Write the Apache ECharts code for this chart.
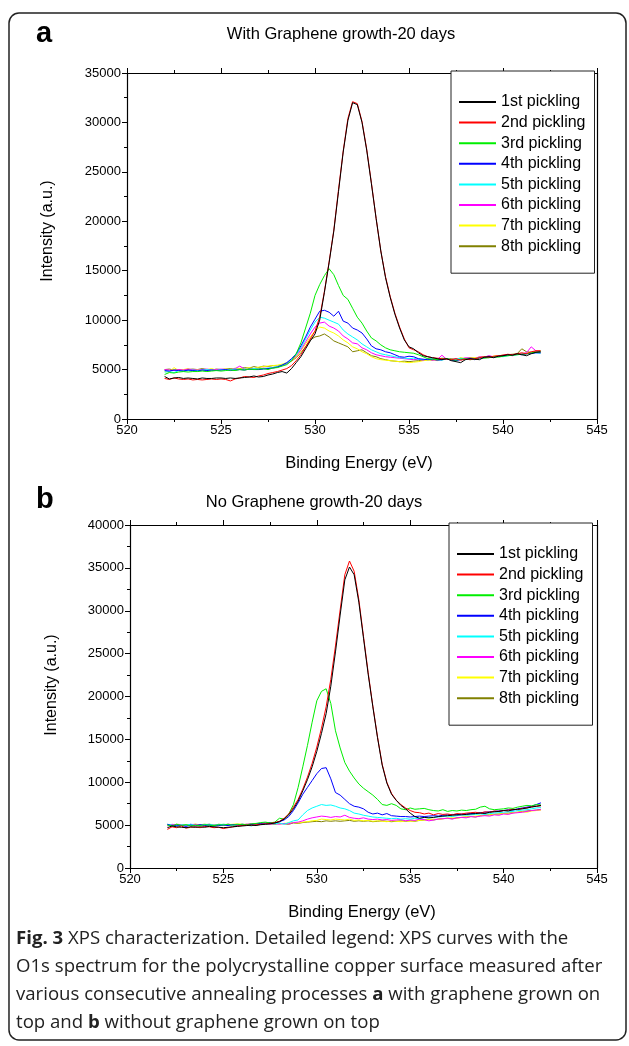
<!DOCTYPE html>
<html>
<head>
<meta charset="utf-8">
<script src="https://cdn.jsdelivr.net/npm/echarts@6/dist/echarts.min.js"></script>
<style>
html,body{margin:0;padding:0;background:#fff;}
#chart{width:629px;height:1046px;}
</style>
</head>
<body>
<div id="chart"></div>
<script>
// Binding energy (eV) sample points
const energies = [
 522,522.25,522.5,522.75,523,523.25,523.5,523.75,524,524.25,524.5,524.75,525,525.25,525.5,525.75,
 526,526.25,526.5,526.75,527,527.25,527.5,527.75,528,528.25,528.5,528.75,529,529.25,529.5,529.75,
 530,530.25,530.5,530.75,531,531.25,531.5,531.75,532,532.25,532.5,532.75,533,533.25,533.5,533.75,
 534,534.25,534.5,534.75,535,535.25,535.5,535.75,536,536.25,536.5,536.75,537,537.25,537.5,537.75,
 538,538.25,538.5,538.75,539,539.25,539.5,539.75,540,540.25,540.5,540.75,541,541.25,541.5,541.75,542
];
const seriesNames = ['1st pickling','2nd pickling','3rd pickling','4th pickling','5th pickling','6th pickling','7th pickling','8th pickling'];
const seriesColors = ['#000000','#ff0000','#00ee00','#0000ff','#00ffff','#ff00ff','#ffff00','#808000'];
const xTicks = [520,525,530,535,540,545];
const yTicksA = [0,5000,10000,15000,20000,25000,30000,35000];
const yTicksB = [0,5000,10000,15000,20000,25000,30000,35000,40000];

// Panel a: With Graphene growth-20 days
const a1 = [4300,4050,4150,4200,4100,4150,4100,4050,4150,4100,4100,4150,4150,4100,4150,4100,4150,4200,4250,4350,4250,4300,4450,4550,
 4700,4800,4650,5100,5700,6300,7100,7900,8600,10000,12800,15800,19000,23000,27000,30200,32000,31800,30000,27200,23800,20300,17000,14300,
 12300,10600,9200,8000,7300,7100,6700,6400,6300,6200,6100,6000,6100,5900,5800,5700,6000,6100,6050,6000,6250,6300,6200,6350,6400,6500,6450,6600,6500,6400,6600,6750,6800];
const a2 = [4100,4000,4150,4050,4000,4050,3950,4000,3950,4000,4050,4000,4050,4000,3850,4050,4150,4300,4250,4200,4350,4450,4600,4700,
 4800,4950,5100,5400,5900,6500,7300,8100,8900,10300,12900,15900,19100,23200,27100,30400,32100,31900,30100,27300,23900,20300,17000,14400,
 12400,10700,9300,8100,7200,7000,6800,6500,6300,6200,6150,6100,6050,6000,6100,5950,6050,6000,6100,6200,6300,6250,6350,6400,6450,6550,6500,6600,6700,6600,6800,6900,6900];
const a3 = [4500,4700,4650,4750,4800,4750,4800,4800,4850,4800,4850,4900,4850,4900,4950,4900,5000,4950,5050,5000,5050,5100,5000,5150,
 5200,5350,5500,5900,6600,7700,9200,10700,12500,13600,14500,15200,14600,13500,12500,12100,11200,10300,9700,8900,8200,7900,7500,7200,
 7000,6900,6800,6750,6700,6650,6500,6300,6100,6050,6000,6150,6100,6000,5950,6050,6100,6000,6050,6200,6150,6200,6300,6250,6350,6400,6450,6500,6550,6600,6700,6750,6800];
const a4 = [4900,4850,4950,4900,4850,4950,4900,4850,4950,4900,4950,4900,4950,5000,4900,4950,5000,4950,5050,5000,5000,5050,5100,5150,
 5250,5450,5700,6100,6600,7400,8300,9300,10100,10900,11000,10800,10400,10900,9900,9700,9200,9000,8700,8100,7400,7100,7000,6800,
 6700,6500,6300,6250,6350,6300,6100,6050,6000,6050,5950,6000,6100,5950,5900,6000,6050,6100,6000,6150,6200,6300,6250,6350,6400,6450,6500,6550,6500,6600,6650,6700,6700];
const a5 = [4750,4800,4700,4900,4850,4900,4950,4900,4950,5000,4950,4900,5000,4950,5000,5050,5000,5050,5000,5100,5050,5100,5150,5200,
 5300,5450,5650,6000,6500,7200,8100,9000,9800,10300,10200,10000,9800,9600,9000,8600,8300,8000,7600,7300,7000,6800,6600,6500,
 6400,6300,6200,6150,6100,6150,6050,6000,6050,6100,6000,5950,6100,6000,6050,6150,6000,6100,6050,6200,6250,6200,6300,6350,6300,6400,6450,6500,6550,6600,6650,6700,6650];
const a6 = [5000,4950,4900,5000,4950,5050,5000,4950,5000,5050,4950,5000,5050,5000,5000,5100,5350,5050,5000,5100,5050,5150,5100,5200,
 5250,5400,5600,5900,6400,7000,7800,8600,9300,9700,9800,9400,9200,8900,8400,8100,7700,7600,7200,7000,6700,6500,6400,6300,
 6250,6200,6150,6100,6050,6000,6050,5950,6100,5950,6000,6450,6050,6000,6100,6050,6200,6150,6100,6300,6250,6400,6300,6350,6450,6500,6400,6550,6600,6700,7300,6900,6700];
const a7 = [4800,4750,5200,4900,5000,5100,4900,5000,4950,5000,5100,4950,5000,5050,5000,5150,5050,5100,5200,5100,5250,5300,5350,5400,
 5450,5550,5700,5900,6300,6900,7600,8300,8900,9300,9200,8900,8700,8400,8000,7700,7300,7100,6800,6600,6300,6100,6000,5950,
 5900,5850,5800,5750,5700,5750,5800,5900,5950,6000,5900,6050,6100,6000,6050,6200,6100,6150,6200,6250,6300,6250,6350,6400,6450,6400,6500,6550,6600,6650,6700,6750,6700];
const a8 = [5000,5050,4950,5000,4950,5000,5050,5000,5100,5000,4950,5050,5000,5050,5100,5050,5100,5200,5150,5300,5200,5350,5300,5400,
 5350,5450,5600,5850,6200,6700,7300,8000,8300,8400,8600,8300,7900,7700,7500,7300,6800,6900,7000,6700,6400,6300,6100,6000,
 5900,5850,5800,5850,5800,5850,5900,5950,6000,5950,6100,6000,6050,6100,6000,6150,6100,6200,6150,6250,6300,6350,6300,6400,6450,6500,6550,6600,7100,6800,6750,6850,6900];

// Panel b: No Graphene growth-20 days
const b1 = [4700,4900,4800,4750,4700,4800,4750,4800,4750,4850,4800,4750,4700,4750,4800,4850,4900,4950,5000,4950,5050,5100,5150,5250,
 5400,5700,6200,6900,7800,9000,10300,11800,13600,15700,18000,21200,25200,29500,33600,35100,34200,31000,26800,22600,18800,15200,12000,9900,
 8600,7900,7300,6900,6400,6000,5800,5900,5850,5900,6000,6050,6100,6150,6200,6200,6250,6300,6350,6400,6350,6500,6550,6600,6700,6650,6800,6850,6900,7000,7100,7200,7300];
const b2 = [4500,4800,4700,4900,4650,4750,4800,4700,4850,4800,4700,4750,4600,4700,4800,4900,4950,5000,4950,5050,5100,5150,5200,5300,
 5450,5800,6300,7100,8000,9200,10600,12200,14100,16300,18800,22000,25900,30100,34200,35800,34600,31300,27000,22800,18900,15300,12100,10000,
 8700,7900,7400,7000,6700,6500,6450,6300,6400,6200,6350,6250,6300,6200,6350,6300,6400,6450,6500,6400,6550,6500,6650,6600,6700,6750,6850,6800,6950,7000,7150,7200,7250];
const b3 = [5000,4900,5100,4950,5050,4900,5000,4950,5050,5000,4950,5050,5000,5100,5000,5050,5100,5050,5150,5200,5300,5350,5250,5350,
 5800,5700,6300,7400,9400,11800,14300,17000,19500,20600,20900,19200,16000,14000,12300,11300,10500,9800,9300,8900,8500,8000,7400,7300,
 7500,7300,6900,6800,7000,6850,6900,6950,6800,6700,6650,6800,6600,6700,6650,6750,6700,6800,6850,7100,7200,6900,6800,6850,6900,7000,6950,7100,7200,7300,7250,7400,7350];
const b4 = [5100,4900,5000,4950,4850,5000,4900,5050,4950,5000,4900,4950,5000,4950,5050,5000,5100,5050,5100,5150,5200,5250,5300,5250,
 5400,5600,6000,6700,7600,8600,9400,10200,11000,11600,11700,10400,8800,8500,8000,7500,7200,7100,6900,6500,6300,6400,6200,6350,
 6100,6050,6000,6000,5950,6000,6050,6000,6050,6100,6050,6150,6200,6250,6200,6300,6300,6350,6400,6450,6500,6550,6600,6650,6700,6800,6750,6900,7000,7100,7200,7400,7600];
const b5 = [5100,5000,4900,5050,5000,5100,4950,5000,5050,5100,5000,5050,5100,5050,5000,5100,5050,5000,4900,5100,5150,5100,5200,5150,
 5250,5100,5300,5500,5600,6200,6700,7000,7200,7400,7300,7350,7200,7000,6900,6700,6400,6300,6150,6050,5950,5900,5850,5800,
 5750,5800,5700,5750,5700,5800,5750,5900,5850,5900,5950,6000,6050,6000,6100,6200,6150,6200,6250,6300,6250,6350,6400,6450,6500,6550,6600,6700,6750,6800,6900,7000,7050];
const b6 = [4900,5100,5000,5050,4950,5100,5050,5000,5050,5100,5000,5050,5000,5100,5050,5000,5050,5100,5150,5100,5200,5150,5100,5200,
 5100,5200,5150,5300,5350,5500,5700,5850,5950,6050,6000,5900,6000,5950,6150,5900,5800,5750,5850,5700,5650,5700,5600,5650,
 5550,5600,5650,5500,5600,5550,5700,5650,5500,5600,5700,5750,5800,5700,5850,5900,5850,6000,5950,6050,6100,6050,6200,6150,6300,6250,6400,6450,6500,6600,6700,6750,6800];
const b7 = [5000,4950,5050,5000,5050,5000,5100,4950,5050,5100,5050,5000,5100,5050,5100,5150,5100,5050,5150,5100,5200,5150,5200,5250,
 5150,5200,5250,5300,5250,5350,5400,5500,5550,5700,5650,5600,5700,5650,5600,5700,5550,5600,5500,5550,5450,5500,5450,5400,
 5500,5450,5400,5500,5450,5500,5550,5600,5650,5700,5650,5750,5800,5850,5800,5900,5950,6000,6050,6100,6150,6200,6250,6300,6350,6300,6450,6500,6550,6500,6650,6700,6750];
const b8 = [5050,5000,5100,5050,5000,5050,5100,5050,5100,5050,5000,5100,5050,5100,5050,5100,5050,5100,5050,5150,5100,5200,5150,5100,
 5200,5150,5100,5250,5200,5300,5350,5400,5450,5400,5500,5450,5500,5450,5500,5550,5450,5500,5450,5500,5400,5450,5500,5450,
 5400,5450,5500,5450,5500,5450,5550,5600,5650,5600,5700,5750,5800,5750,5850,5900,5950,6000,5950,6100,6150,6200,6250,6300,6350,6400,6450,6500,6600,6650,6700,6750,6850];

const panelA = [a1,a2,a3,a4,a5,a6,a7,a8];
const panelB = [b1,b2,b3,b4,b5,b6,b7,b8];

const FONT = 'Liberation Sans, Arial, sans-serif';
const chart = echarts.init(document.getElementById('chart'), null, {renderer:'canvas'});
const plain = v => String(v);

function xAxes(grid){
  const common = {gridIndex:grid,type:'value',min:xTicks[0],max:xTicks[xTicks.length-1],interval:5,splitLine:{show:false},
    axisLine:{show:true,onZero:false,lineStyle:{color:'#000',width:1.2}}};
  return [
    Object.assign({}, common, {position:'bottom',
      axisTick:{show:true,inside:false,length:5,lineStyle:{color:'#000'}},
      minorTick:{show:true,splitNumber:2,length:3,lineStyle:{color:'#000'}},
      axisLabel:{show:true,color:'#000',fontSize:13,fontFamily:FONT,margin:5,formatter:plain}}),
    Object.assign({}, common, {position:'top',
      axisTick:{show:true,inside:false,length:5,lineStyle:{color:'#000'}},
      minorTick:{show:true,splitNumber:2,length:3,lineStyle:{color:'#000'}},
      axisLabel:{show:false}})
  ];
}
function yAxes(grid, ticks){
  const common = {gridIndex:grid,type:'value',min:ticks[0],max:ticks[ticks.length-1],interval:5000,splitLine:{show:false},
    axisLine:{show:true,onZero:false,lineStyle:{color:'#000',width:1.2}}};
  return [
    Object.assign({}, common, {position:'left',
      axisTick:{show:true,inside:false,length:5,lineStyle:{color:'#000'}},
      minorTick:{show:true,splitNumber:2,length:3,lineStyle:{color:'#000'}},
      axisLabel:{show:true,color:'#000',fontSize:13,fontFamily:FONT,margin:6,formatter:plain}}),
    Object.assign({}, common, {position:'right',axisTick:{show:false},axisLabel:{show:false}})
  ];
}

const series = [];
[panelA, panelB].forEach((panel, p) => {
  panel.forEach((vals, i) => {
    series.push({
      name: seriesNames[i], type:'line', xAxisIndex: p*2, yAxisIndex: p*2,
      data: energies.map((e, k) => [e, vals[k]]),
      symbol:'none', smooth:false, animation:false,
      lineStyle:{color:seriesColors[i], width:1},
      itemStyle:{color:seriesColors[i]},
      z: 10 - i
    });
  });
});

function legend(left, top){
  return {
    left:left, top:top, orient:'vertical', data:seriesNames,
    itemWidth:37, itemHeight:14, itemGap:4.6,
    itemStyle:{opacity:0},
    padding:[23,9,19,7], backgroundColor:'#fff', borderColor:'#222', borderWidth:1,
    textStyle:{fontFamily:FONT,fontSize:16,color:'#000'},
    selectedMode:false
  };
}

const option = {
  backgroundColor:'#fff',
  animation:false,
  grid:[
    {left:127, top:73, width:470, height:346},
    {left:130, top:525, width:467, height:343}
  ],
  xAxis: xAxes(0).concat(xAxes(1)),
  yAxis: yAxes(0, yTicksA).concat(yAxes(1, yTicksB)),
  legend:[legend(451,71), legend(449,523)],
  series: series,
  graphic:[
    {type:'rect', shape:{x:9,y:13,width:617,height:1027,r:10}, style:{fill:'none',stroke:'#222',lineWidth:1.5}, z:0},
    {type:'text', left:36, top:19, style:{text:'a', font:'bold 29px '+FONT, fill:'#000'}},
    {type:'text', x:341, y:34, style:{text:'With Graphene growth-20 days', font:'16.5px '+FONT, fill:'#000', align:'center', verticalAlign:'middle'}},
    {type:'text', x:48, y:231, rotation:Math.PI/2, style:{text:'Intensity (a.u.)', font:'16px '+FONT, fill:'#000', align:'center', verticalAlign:'middle'}},
    {type:'text', x:359, y:463, style:{text:'Binding Energy (eV)', font:'16.5px '+FONT, fill:'#000', align:'center', verticalAlign:'middle'}},
    {type:'text', left:36, top:485, style:{text:'b', font:'bold 29px '+FONT, fill:'#000'}},
    {type:'text', x:314, y:502, style:{text:'No Graphene growth-20 days', font:'16.5px '+FONT, fill:'#000', align:'center', verticalAlign:'middle'}},
    {type:'text', x:52, y:685, rotation:Math.PI/2, style:{text:'Intensity (a.u.)', font:'16px '+FONT, fill:'#000', align:'center', verticalAlign:'middle'}},
    {type:'text', x:362, y:912, style:{text:'Binding Energy (eV)', font:'16.5px '+FONT, fill:'#000', align:'center', verticalAlign:'middle'}},
    {type:'text', left:16, top:925, style:{
      text:'{b|Fig. 3} XPS characterization. Detailed legend: XPS curves with the\nO1s spectrum for the polycrystalline copper surface measured after\nvarious consecutive annealing processes {b|a} with graphene grown on\ntop and {b|b} without graphene grown on top',
      font:'18.6px Open Sans', fill:'#222', lineHeight:28,
      rich:{b:{fontWeight:'bold', fontFamily:'Open Sans', fontSize:18.6, fill:'#222', lineHeight:28}}
    }}
  ]
};
chart.setOption(option);
</script>
</body>
</html>
